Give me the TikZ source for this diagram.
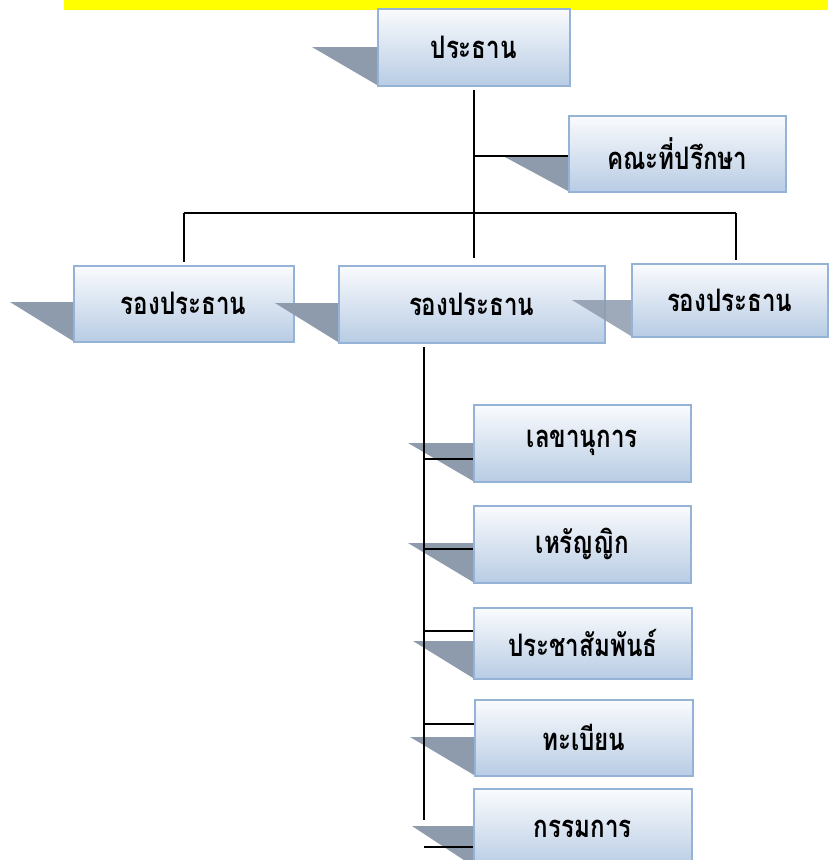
\documentclass[tikz,border=0pt]{standalone}
\usepackage{fontspec}
\newfontfamily\thaifont[Script=Thai, FakeStretch=0.78]{Loma}
\definecolor{boxline}{RGB}{149,179,215}
\definecolor{boxtop}{RGB}{250,251,253}
\definecolor{boxbot}{RGB}{184,204,228}
\definecolor{shadowcol}{RGB}{141,155,173}
\definecolor{banner}{RGB}{255,255,0}
\tikzset{
  orgbox/.style={draw=boxline, line width=1.5pt, top color=boxtop, bottom color=boxbot,
    anchor=north west, inner sep=0pt, font=\thaifont\bfseries\fontsize{31}{35}\selectfont},
  boxshadow/.style={fill=shadowcol},
  link/.style={draw=black, line width=1.6pt}
}
\begin{document}
\begin{tikzpicture}[x=1pt,y=-1pt]
		\useasboundingbox (0,0) rectangle (828,860);
		\fill[banner] (64,0) rectangle (828,10);

		% Top level
		\fill[boxshadow] (312,47) -- (377,47) -- (377,85) -- cycle;
		\node[orgbox, minimum width=192pt, minimum height=77pt] (pres) at (377,8) {ประธาน};
		\fill[boxshadow] (503,156) -- (568,156) -- (568,191) -- cycle;
		\node[orgbox, minimum width=217pt, minimum height=76pt] (adv) at (568,115) {คณะที่ปรึกษา};

		% Vice presidents
		\fill[boxshadow] (10,302) -- (73,302) -- (73,341) -- cycle;
		\node[orgbox, minimum width=220pt, minimum height=76pt] (vp1) at (73,265) {รองประธาน};
		\fill[boxshadow] (275,303) -- (338,303) -- (338,342) -- cycle;
		\node[orgbox, minimum width=266pt, minimum height=77pt] (vp2) at (338,265) {รองประธาน};
		\fill[boxshadow, opacity=0.85] (572,300) -- (631,300) -- (631,336) -- cycle;
		\node[orgbox, minimum width=196pt, minimum height=73pt] (vp3) at (631,263) {รองประธาน};

		% Sections
		\fill[boxshadow] (408,443) -- (473,443) -- (473,481) -- cycle;
		\node[orgbox, minimum width=217pt, minimum height=77pt] (sec1) at (473,404) {เลขานุการ};
		\fill[boxshadow] (408,543) -- (473,543) -- (473,582) -- cycle;
		\node[orgbox, minimum width=217pt, minimum height=77pt] (sec2) at (473,505) {เหรัญญิก};
		\fill[boxshadow] (413,641) -- (473,641) -- (473,678) -- cycle;
		\node[orgbox, minimum width=218pt, minimum height=71pt] (sec3) at (473,607) {ประชาสัมพันธ์};
		\fill[boxshadow] (410,737) -- (474,737) -- (474,775) -- cycle;
		\node[orgbox, minimum width=218pt, minimum height=76pt] (sec4) at (474,699) {ทะเบียน};
		\fill[boxshadow] (412,826) -- (473,826) -- (473,866) -- cycle;
		\node[orgbox, minimum width=218pt, minimum height=80pt] (sec5) at (473,788) {กรรมการ};

		% Connectors
		\coordinate (bar) at (472,213);
		\coordinate (barR) at (736,213);
		\coordinate (spine) at (424,347);
		\coordinate (spineend) at (424,820);
		\draw[link, shorten <=3pt, shorten >=7pt] (pres.south) -- (pres.south |- vp2.north);
		\draw[link] (pres.south |- 0,156) -- (adv.west |- 0,156);
		\draw[link] (vp1.north |- bar) -- (barR);
		\draw[link, shorten <=3pt] (vp1.north) -- (vp1.north |- bar);
		\draw[link, shorten >=3pt] (barR) -- (barR |- vp3.north);
		\draw[link] (spine) -- (spineend);
		\draw[link] (spine |- 0,459) -- (sec1.west |- 0,459);
		\draw[link] (spine |- 0,549) -- (sec2.west |- 0,549);
		\draw[link] (spine |- 0,631) -- (sec3.west |- 0,631);
		\draw[link] (spine |- 0,724) -- (sec4.west |- 0,724);
		\draw[link] (spine |- 0,847) -- (sec5.west |- 0,847);
	\end{tikzpicture}
\end{document}
